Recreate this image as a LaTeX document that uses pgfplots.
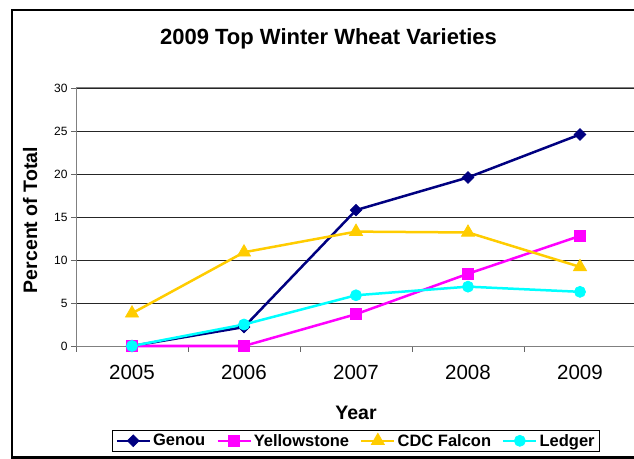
\documentclass[border=0pt]{standalone}
\usepackage{pgfplots}
\pgfplotsset{compat=1.18}
\usepackage{fontspec}
\setmainfont{Liberation Sans}
\definecolor{cGenou}{HTML}{000080}
\definecolor{cYellow}{HTML}{FF00FF}
\definecolor{cCDC}{HTML}{FFCC00}
\definecolor{cLedger}{HTML}{00FFFF}
\begin{document}
\begin{tikzpicture}
\path[use as bounding box] (0bp,0bp) rectangle (634bp,459bp);
\begin{scope}
\clip (0bp,0bp) rectangle (634bp,459bp);
\draw[line width=2.5bp] (12bp,1.5bp) rectangle (720bp,449bp);
\node[font=\bfseries\fontsize{22bp}{26bp}\selectfont, anchor=base] at (328.5bp,414bp) {2009 Top Winter Wheat Varieties};
\begin{axis}[
  at={(76bp,113bp)}, anchor=south west,
  scale only axis, width=560bp, height=258bp,
  xmin=-0.5, xmax=4.5, ymin=0, ymax=30,
  clip=false,
  xtick={0,1,2,3,4},
  xticklabels={2005,2006,2007,2008,2009},
  minor xtick={-0.5,0.5,1.5,2.5,3.5,4.5},
  major x tick style={draw=none},
  ytick={0,5,10,15,20,25,30},
  tick align=outside,
  xtick pos=left, ytick pos=left,
  major tick length=5bp, minor tick length=6bp,
  tick style={black!60, line width=0.8bp},
  ymajorgrids,
  major grid style={black!85, line width=0.8bp},
  axis line style={black!50, line width=1bp},
  /pgf/number format/assume math mode=true,
  xticklabel style={font=\fontsize{20.5bp}{24bp}\selectfont, yshift=-11bp},
  yticklabel style={font=\fontsize{12bp}{14bp}\selectfont},
  xlabel={Year},
  ylabel={Percent of Total},
  xlabel style={at={(axis description cs:0.5,-0.283)}, anchor=base, font=\bfseries\fontsize{19.5bp}{23bp}\selectfont},
  ylabel style={at={(axis description cs:-0.0696,0.488)}, anchor=base, font=\bfseries\fontsize{19.5bp}{23bp}\selectfont},
  legend columns=4,
  legend style={at={(axis description cs:0.0643,-0.411)}, anchor=south west,
    draw=black, line width=1bp, fill=white, inner xsep=3bp, inner ysep=2bp,
    font=\bfseries\fontsize{16.5bp}{19bp}\selectfont,
    nodes={inner xsep=2bp},
    /tikz/every even column/.append style={column sep=9bp}},
  legend image code/.code={\draw[mark repeat=2,mark phase=2,#1] plot coordinates {(0bp,0bp) (16.5bp,0bp) (33bp,0bp)};},
]
\addplot[cGenou, line width=2.5bp, mark=square*, mark size=4.1bp, mark options={rotate=45, solid, line width=0.8bp}]
  coordinates {(0,0) (1,2.2) (2,15.8) (3,19.6) (4,24.6)};
\addlegendentry{Genou}
\addplot[cYellow, line width=2.5bp, mark=square*, mark size=5.5bp, mark options={solid, line width=0.8bp}]
  coordinates {(0,0) (1,0) (2,3.7) (3,8.4) (4,12.8)};
\addlegendentry{Yellowstone}
\addplot[cCDC, line width=2.5bp, mark=triangle*, mark size=7.5bp, mark options={solid, line width=0.8bp}]
  coordinates {(0,3.8) (1,10.9) (2,13.3) (3,13.2) (4,9.2)};
\addlegendentry{CDC Falcon}
\addplot[cLedger, line width=2.5bp, mark=*, mark size=5.5bp, mark options={solid, line width=0.8bp}]
  coordinates {(0,0) (1,2.5) (2,5.9) (3,6.9) (4,6.3)};
\addlegendentry{Ledger}
\end{axis}
\end{scope}
\end{tikzpicture}
\end{document}
